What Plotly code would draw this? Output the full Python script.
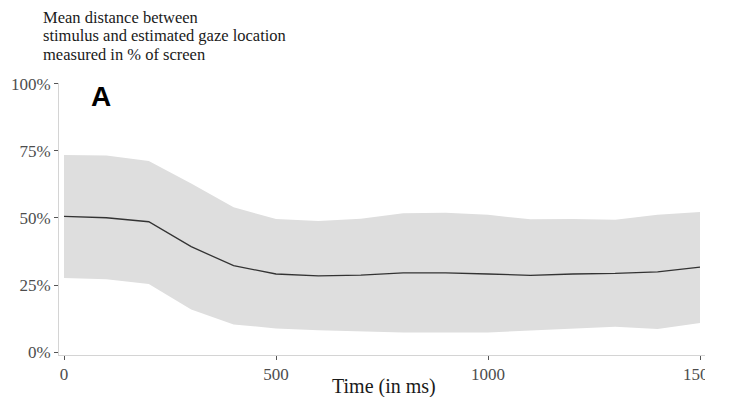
import plotly.graph_objects as go

# ---- data ----
time_ms = [0, 100, 200, 300, 400, 500, 600, 700, 800, 900, 1000, 1100, 1200, 1300, 1400, 1500]
mean_dist = [50.6, 50.1, 48.6, 39.3, 32.2, 29.1, 28.4, 28.7, 29.5, 29.5, 29.1, 28.6, 29.1, 29.3, 29.9, 31.7]
upper_band = [73.5, 73.3, 71.3, 62.9, 54.0, 49.6, 48.9, 49.7, 51.8, 52.0, 51.2, 49.5, 49.6, 49.3, 51.2, 52.2]
lower_band = [27.6, 27.1, 25.4, 15.9, 10.3, 8.8, 8.1, 7.6, 7.3, 7.3, 7.3, 8.0, 8.6, 9.4, 8.6, 10.8]

x_ticks = [0, 500, 1000, 1500]
y_ticks = [0, 25, 50, 75, 100]
y_ticklabels = ["0%", "25%", "50%", "75%", "100%"]

title_lines = ["Mean distance between",
               "stimulus and estimated gaze location",
               "measured in % of screen"]
x_title = "Time (in ms)"
panel_label = "A"

# ---- layout geometry (pixels) ----
W, H = 730, 397
L, R, T, B = 59, 25, 83, 42
pw, ph = W - L - R, H - T - B

def px_x(p):
    return (p - L) / pw

def px_y(p):
    return (H - B - p) / ph

SERIF = "Liberation Serif, Times New Roman, serif"

fig = go.Figure()
fig.add_trace(go.Scatter(x=time_ms, y=lower_band, mode="lines",
                         line=dict(width=0), hoverinfo="skip", showlegend=False))
fig.add_trace(go.Scatter(x=time_ms, y=upper_band, mode="lines", fill="tonexty",
                         fillcolor="#dedede", line=dict(width=0),
                         hoverinfo="skip", showlegend=False))
fig.add_trace(go.Scatter(x=time_ms, y=mean_dist, mode="lines",
                         line=dict(color="#333333", width=1.3), showlegend=False))

annotations = []
for line, py in zip(title_lines, [17.3, 36.0, 54.5]):
    annotations.append(dict(text=line, xref="paper", yref="paper",
                            x=px_x(41), y=px_y(py), xanchor="left", yanchor="middle",
                            showarrow=False,
                            font=dict(family=SERIF, size=16.5, color="#1a1a1a")))
annotations.append(dict(text=panel_label, xref="paper", yref="paper",
                        x=px_x(101), y=px_y(96.5), xanchor="center", yanchor="middle",
                        showarrow=False,
                        font=dict(family="Liberation Sans, Arial, sans-serif", size=28,
                                  color="#000000", weight="bold")))
annotations.append(dict(text=x_title, xref="paper", yref="paper",
                        x=px_x(384), y=px_y(373), xanchor="center", yanchor="top",
                        showarrow=False,
                        font=dict(family=SERIF, size=20, color="#1a1a1a")))

fig.update_layout(
    width=W, height=H,
    margin=dict(l=L, r=R, t=T, b=B, pad=0),
    paper_bgcolor="white", plot_bgcolor="white",
    showlegend=False,
    annotations=annotations,
    xaxis=dict(range=[-11.8, 1511.8], tickvals=x_ticks,
               showgrid=False, zeroline=False,
               showline=True, linecolor="#d4d4d4", linewidth=1,
               ticks="outside", ticklen=4, tickcolor="#555555", tickwidth=1,
               tickfont=dict(family=SERIF, size=17, color="#4d4d4d")),
    yaxis=dict(range=[-1.12, 100.37], tickvals=y_ticks, ticktext=y_ticklabels,
               showgrid=False, zeroline=False,
               showline=True, linecolor="#d4d4d4", linewidth=1,
               ticks="outside", ticklen=4, tickcolor="#555555", tickwidth=1,
               tickfont=dict(family=SERIF, size=17, color="#4d4d4d")),
    shapes=[dict(type="rect", xref="paper", yref="paper",
                 x0=1.0, x1=1.2, y0=-0.3, y1=1.2,
                 fillcolor="white", line=dict(width=0), layer="above")],
)

fig.write_html("out.html",
               config={"displayModeBar": False},
               post_script="document.body.style.margin='0px';document.body.style.overflow='hidden';")
